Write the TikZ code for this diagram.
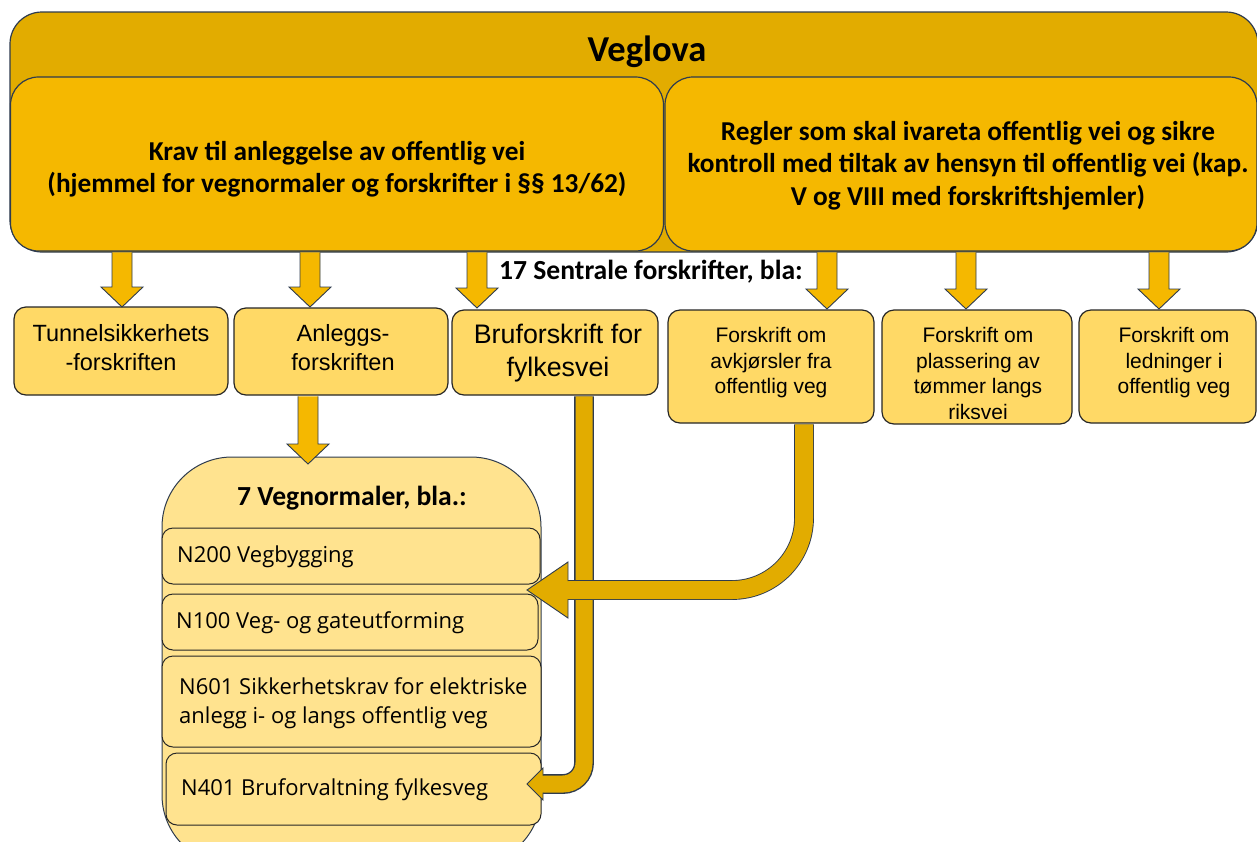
\documentclass[tikz,border=0pt]{standalone}
\usepackage{fontspec}
\setmainfont{Liberation Sans}
\newfontfamily\calfont{Carlito}
\newfontfamily\segfont{Open Sans}
\usetikzlibrary{calc}
\definecolor{goldD}{HTML}{E2AC00}
\definecolor{goldM}{HTML}{F5B800}
\definecolor{goldL}{HTML}{FFD966}
\definecolor{goldP}{HTML}{FFE38F}
\definecolor{edgeC}{HTML}{2E3B4E}
\newcommand\blockdown[2]{%
  \draw[blk] let \p1=(#1), \p2=(#2) in
    (\x2-10pt,\y1-0.7pt) -- (\x2-10pt,\y2+20pt) -- (\x2-21pt,\y2+20pt) -- (\x2,\y2)
    -- (\x2+21pt,\y2+20pt) -- (\x2+10pt,\y2+20pt) -- (\x2+10pt,\y1-0.7pt);}
\newcommand\headleft[4]{%
  \filldraw[fill=goldD, draw=edgeC, line width=0.9pt, line join=miter] let \p1=(#1) in
    (\x1+#2,\y1+#4) -- (\x1+#2,\y1+#3) -- (\x1,\y1) -- (\x1+#2,\y1-#3) -- (\x1+#2,\y1-#4);}
\begin{document}
\begin{tikzpicture}[x=1pt,y=-1pt,
  outerbox/.style={draw=edgeC, line width=1.2pt, rounded corners=32pt, fill=goldD, inner sep=0pt},
  bigbox/.style={draw=edgeC, line width=1.2pt, rounded corners=28pt, fill=goldM, inner sep=0pt},
  bigtext/.style={align=center, inner sep=0pt, font=\calfont\bfseries\fontsize{27.3}{32.5}\selectfont},
  smallbox/.style={draw=black!85, line width=1.2pt, rounded corners=12pt, fill=goldL, inner sep=0pt},
  smalltext/.style={align=center, inner sep=0pt},
  contbox/.style={draw=edgeC, line width=1pt, rounded corners=70pt, fill=goldP, inner sep=0pt},
  nbox/.style={draw=black!85, line width=1pt, rounded corners=11pt, fill=goldP, inner sep=0pt},
  ntext/.style={anchor=west, align=left, inner sep=0pt, font=\segfont\fontsize{22}{29}\selectfont},
  blk/.style={draw=edgeC, line width=0.9pt, fill=goldM, line join=miter},
  curveout/.style={draw=edgeC, line width=19.8pt},
  curvein/.style={draw=goldD, line width=18pt},
  boldlbl/.style={font=\calfont\bfseries\fontsize{27.6}{32}\selectfont, inner sep=0pt}
]
\useasboundingbox (0,0) rectangle (1257,841);
\begin{scope}
\clip (0,0) rectangle (1257,841);
% Veglova
\node[outerbox, minimum width=1248pt, minimum height=240pt] (veg) at (634,132) {};
\node[font=\calfont\bfseries\fontsize{36.5}{40}\selectfont, inner sep=0pt] (vegt) at (647,52) {Veglova};
\node[bigbox, minimum width=653pt, minimum height=174pt] (kL) at (337,164) {};
\node[bigtext] (kLt) at (337,169)
  {Krav til anleggelse av offentlig vei\\(hjemmel for vegnormaler og forskrifter i §§ 13/62)};
\node[bigbox, minimum width=592pt, minimum height=174pt] (kR) at (961,164) {};
\node[bigtext] (kRt) at (968,165.5)
  {Regler som skal ivareta offentlig vei og sikre\\kontroll med tiltak av hensyn til offentlig vei (kap.\\V og VIII med forskriftshjemler)};
% row of regulations
\node[smallbox, minimum width=214pt, minimum height=88pt] (tun) at (121,351) {};
\node[smalltext, font=\fontsize{23.5}{29}\selectfont] (tunt) at (121,347.5) {Tunnelsikkerhets\\-forskriften};
\node[smallbox, minimum width=214pt, minimum height=87pt] (anl) at (341,351.5) {};
\node[smalltext, font=\fontsize{23.5}{29}\selectfont] (anlt) at (343,347.5) {Anleggs-\\forskriften};
\node[smallbox, minimum width=206pt, minimum height=85pt] (bru) at (555,352.5) {};
\node[smalltext, font=\fontsize{26.8}{33}\selectfont] (brut) at (558,353.5) {Bruforskrift for\\fylkesvei};
\node[smallbox, minimum width=206pt, minimum height=113pt] (avk) at (771,366.5) {};
\node[smalltext, font=\fontsize{21}{25.5}\selectfont] (avkt) at (771,363) {Forskrift om\\avkjørsler fra\\offentlig veg};
\node[smallbox, minimum width=190pt, minimum height=114pt] (pla) at (977,367) {};
\node[smalltext, font=\fontsize{21}{25.7}\selectfont] (plat) at (978,373.5) {Forskrift om\\plassering av\\tømmer langs\\riksvei};
\node[smallbox, minimum width=177pt, minimum height=113pt] (led) at (1167.5,366.5) {};
\node[smalltext, font=\fontsize{21}{25.5}\selectfont] (ledt) at (1174,363) {Forskrift om\\ledninger i\\offentlig veg};
\node[boldlbl, anchor=west] (sent) at (499,272) {17 Sentrale forskrifter, bla:};
% down arrows
\coordinate (t1) at (122,307);
\coordinate (t2) at (310,307);
\coordinate (t3) at (477,308);
\coordinate (t4) at (827,309);
\coordinate (t5) at (966,309);
\coordinate (t6) at (1159,309);
\blockdown{t1 |- kL.south}{t1}
\blockdown{t2 |- kL.south}{t2}
\blockdown{t3 |- kL.south}{t3}
\blockdown{t4 |- kR.south}{t4}
\blockdown{t5 |- kR.south}{t5}
\blockdown{t6 |- kR.south}{t6}
% vegnormaler
\node[contbox, minimum width=379pt, minimum height=408pt] (vn) at (351.5,661) {};
\node[boldlbl] (vnt) at (352,498) {7 Vegnormaler, bla.:};
\node[nbox, minimum width=378pt, minimum height=56pt] (n200) at (351,556) {};
\node[ntext] (n200t) at (177,557) {N200 Vegbygging};
\node[nbox, minimum width=376pt, minimum height=56pt] (n100) at (350,622) {};
\node[ntext] (n100t) at (176,623) {N100 Veg- og gateutforming};
\node[nbox, minimum width=379pt, minimum height=91pt] (n601) at (351.5,701.5) {};
\node[ntext] (n601t) at (179,703) {N601 Sikkerhetskrav for elektriske\\anlegg i- og langs offentlig veg};
\node[nbox, minimum width=375pt, minimum height=72pt] (n401) at (353.5,789) {};
\node[ntext] (n401t) at (181,790) {N401 Bruforvaltning fylkesveg};
% arrow Anleggs -> vegnormaler
\coordinate (tv) at (308,464);
\blockdown{tv |- anl.south}{tv}
% curved arrow Bruforskrift -> N401
\coordinate (tipB) at (527,784);
\coordinate (cB) at (584,784);
\draw[curveout, rounded corners=21pt] ([yshift=-0.7pt]bru.south -| cB) -- (cB) -- ([xshift=16pt]tipB);
\draw[curvein, line width=17pt, rounded corners=21pt] ([yshift=-0.7pt]bru.south -| cB) -- (cB) -- ([xshift=16pt]tipB);
\headleft{tipB}{16pt}{16pt}{8.5pt}
% curved arrow avkjorsler -> N200/N100
\coordinate (tipA) at (527,590);
\coordinate (cA) at (804,590);
\draw[curveout, rounded corners=72pt] ([yshift=-0.7pt]avk.south -| cA) -- (cA) -- ([xshift=41pt]tipA);
\draw[curvein, rounded corners=72pt] ([yshift=-0.7pt]avk.south -| cA) -- (cA) -- ([xshift=41pt]tipA);
\headleft{tipA}{41pt}{28pt}{9pt}
\end{scope}
\end{tikzpicture}
\end{document}
